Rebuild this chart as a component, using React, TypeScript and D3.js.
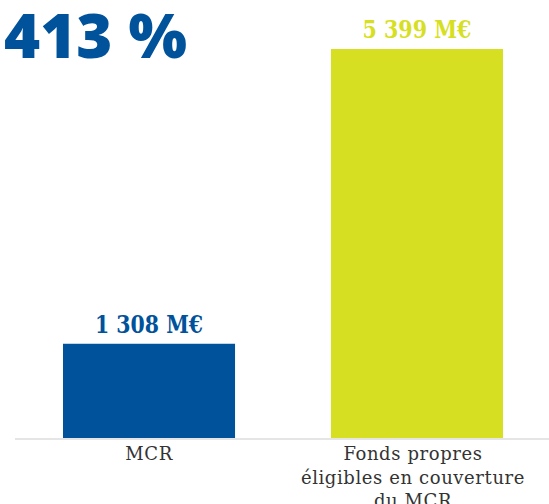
import React from "react";
import * as d3 from "d3";

const categories: string[][] = [["MCR"], ["Fonds propres", "éligibles en couverture", "du MCR"]];
const values: number[] = [1308, 5399];
const valueLabels: string[] = ["1 308 M€", "5 399 M€"];
const colors: string[] = ["#00529b", "#d7df23"];
const headline = "413 %";

export default function App() {
  const W = 549, H = 504;
  const baseY = 438;
  const x = d3.scaleBand<number>().domain(d3.range(values.length)).range([63, 503]).paddingInner(0.358).paddingOuter(0);
  const y = d3.scaleLinear().domain([0, 5399]).range([baseY, 49]);
  return (
    <svg width={W} height={H} style={{ position: "absolute", left: 0, top: 0, display: "block" }}>
      <text x={4} y={58} fill="#00529b" fontFamily="'Open Sans', sans-serif" fontWeight={800} fontSize={62} textLength={183} lengthAdjust="spacingAndGlyphs">{headline}</text>
      <line x1={15} x2={W} y1={baseY + 1} y2={baseY + 1} stroke="#dddddd" strokeWidth={1.5} />
      {values.map((v, i) => (
        <g key={i}>
          <rect x={x(i)} y={y(v)} width={x.bandwidth()} height={baseY - y(v)} fill={colors[i]} />
          <text x={x(i)! + x.bandwidth() / 2} y={y(v) - 11} textAnchor="middle" fill={colors[i]} fontFamily="'DejaVu Serif Condensed', 'DejaVu Serif', serif" fontWeight="bold" fontSize={25} textLength={i === 0 ? 108 : 109} lengthAdjust="spacingAndGlyphs">{valueLabels[i]}</text>
          {categories[i].map((l, j) => (
            <text key={j} x={x(i)! + x.bandwidth() / 2 - (i === 1 ? 4 : 0)} y={460 + j * 23.5} textAnchor="middle" fill="#333" fontFamily="'DejaVu Serif', serif" fontSize={18} letterSpacing={0.6}>{l}</text>
          ))}
        </g>
      ))}
    </svg>
  );
}
